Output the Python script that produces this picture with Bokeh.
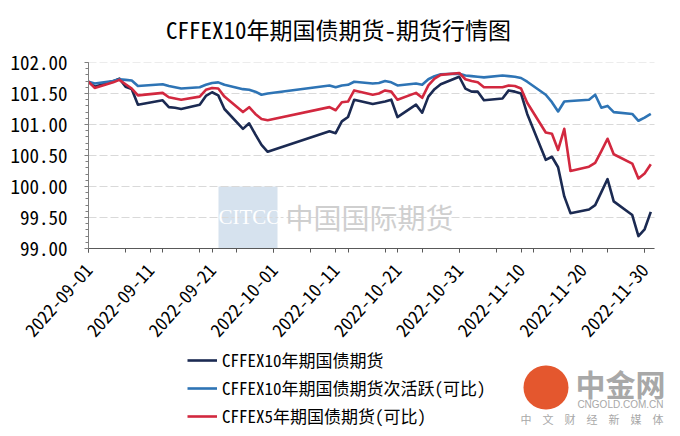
import pandas as pd
from bokeh.plotting import figure
from bokeh.layouts import column
from bokeh.models import (Range1d, FixedTicker, DatetimeTickFormatter, NumeralTickFormatter,
                          Legend, LegendItem, Label, BoxAnnotation)
from bokeh.embed import file_html
from bokeh.resources import INLINE

# ---------------- data ----------------
dates = [
    "2022-09-01", "2022-09-02", "2022-09-05", "2022-09-06", "2022-09-07", "2022-09-08", "2022-09-09",
    "2022-09-13", "2022-09-14", "2022-09-15", "2022-09-16", "2022-09-19", "2022-09-20", "2022-09-21",
    "2022-09-22", "2022-09-23", "2022-09-26", "2022-09-27", "2022-09-28", "2022-09-29", "2022-09-30",
    "2022-10-10", "2022-10-11", "2022-10-12", "2022-10-13", "2022-10-14", "2022-10-17", "2022-10-18",
    "2022-10-19", "2022-10-20", "2022-10-21", "2022-10-24", "2022-10-25", "2022-10-26", "2022-10-27",
    "2022-10-28", "2022-10-31",
    "2022-11-01", "2022-11-02", "2022-11-03", "2022-11-04", "2022-11-07", "2022-11-08", "2022-11-09",
    "2022-11-10", "2022-11-11", "2022-11-14", "2022-11-15", "2022-11-16", "2022-11-17", "2022-11-18",
    "2022-11-21", "2022-11-22", "2022-11-23", "2022-11-24", "2022-11-25", "2022-11-28", "2022-11-29",
    "2022-11-30", "2022-12-01",
]

t10_main = [
    101.69, 101.61, 101.70, 101.74, 101.61, 101.57, 101.32, 101.39, 101.28, 101.27, 101.25, 101.32,
    101.46, 101.52, 101.47, 101.25, 100.93, 101.02, 100.84, 100.67, 100.56,
    100.89, 100.86, 101.05, 101.12, 101.40, 101.33, 101.35, 101.37, 101.40, 101.12, 101.32, 101.19,
    101.45, 101.57, 101.65, 101.77,
    101.58, 101.53, 101.53, 101.39, 101.42, 101.55, 101.53, 101.50, 101.17, 100.43, 100.48, 100.31,
    99.84, 99.57, 99.63, 99.70, 99.91, 100.12, 99.76, 99.54, 99.20, 99.31,
    99.59,
]

t10_next = [
    101.69, 101.66, 101.70, 101.73, 101.72, 101.71, 101.62, 101.65, 101.62, 101.60, 101.58, 101.60,
    101.64, 101.67, 101.68, 101.64, 101.57, 101.56, 101.53, 101.48, 101.50,
    101.63, 101.60, 101.63, 101.64, 101.69, 101.66, 101.67, 101.70, 101.68, 101.63, 101.66, 101.64,
    101.73, 101.78, 101.81, 101.82,
    101.79, 101.78, 101.77, 101.76, 101.79, 101.78, 101.77, 101.75, 101.69, 101.48, 101.36, 101.21,
    101.37, 101.38, 101.40, 101.48, 101.27, 101.30, 101.20, 101.17, 101.06, 101.11,
    101.17,
]

t5 = [
    101.69, 101.59, 101.68, 101.72, 101.65, 101.58, 101.47, 101.51, 101.44, 101.42, 101.40, 101.45,
    101.56, 101.59, 101.58, 101.45, 101.20, 101.28, 101.17, 101.09, 101.07,
    101.28, 101.23, 101.36, 101.37, 101.55, 101.48, 101.50, 101.55, 101.53, 101.40, 101.51, 101.43,
    101.63, 101.74, 101.80, 101.83,
    101.73, 101.70, 101.68, 101.60, 101.60, 101.63, 101.62, 101.58, 101.35, 100.87, 100.85, 100.59,
    100.93, 100.25, 100.32, 100.38, 100.57, 100.77, 100.52, 100.37, 100.13, 100.21,
    100.36,
]

series_names = ["CFFEX10年期国债期货", "CFFEX10年期国债期货次活跃(可比)", "CFFEX5年期国债期货(可比)"]
series_colors = ["#1b2a52", "#2e74b5", "#d2283f"]

x_tick_labels = ["2022-09-01", "2022-09-11", "2022-09-21", "2022-10-01", "2022-10-11",
                 "2022-10-21", "2022-10-31", "2022-11-10", "2022-11-20", "2022-11-30"]
y_ticks = [99.0, 99.5, 100.0, 100.5, 101.0, 101.5, 102.0]

title_text = "CFFEX10年期国债期货-期货行情图"

# ---------------- helpers ----------------
DAY = 86400000.0


def ms(s):
    return pd.Timestamp(s).value / 1e6


x = pd.to_datetime(dates)
x_start = ms(dates[0])
axis_end = ms(dates[-1]) + 0.6 * DAY

FONT = "'Noto Sans Mono CJK SC', 'Noto Sans CJK SC', sans-serif"
CJK = "'Noto Sans CJK SC', sans-serif"

W = 680
FRAME_LEFT = 88
AXIS_RIGHT = 654          # where the x axis line ends
FRAME_TOP = 62            # window y of 102.00
FRAME_BOTTOM = 249        # window y of 99.00
H_TITLE = 46
MAIN_END = 345            # window y where the legend strip begins
H_MAIN = MAIN_END - H_TITLE
H_LEG = 436 - MAIN_END

# the frame runs to the right edge; the axis line stops at AXIS_RIGHT
range_end = x_start + (axis_end - x_start) * (W - FRAME_LEFT) / (AXIS_RIGHT - FRAME_LEFT)


def strip(height):
    f = figure(width=W, height=height, x_range=Range1d(0, W), y_range=Range1d(0, height),
               output_backend="svg", toolbar_location=None, title=None,
               x_axis_location=None, y_axis_location=None, min_border=0)
    f.outline_line_color = None
    f.xgrid.grid_line_color = None
    f.ygrid.grid_line_color = None
    f.background_fill_color = "white"
    f.border_fill_color = "white"
    return f


# ---------------- title strip ----------------
t = strip(H_TITLE)
t.add_layout(Label(x=338 - FRAME_LEFT, y=H_TITLE - 28, x_units="screen", y_units="screen",
                   text=title_text, text_font=FONT, text_font_size="23px", text_color="#000000",
                   text_align="center", text_baseline="middle"))

# ---------------- main plot ----------------
p = figure(width=W, height=H_MAIN, x_axis_type="datetime", title=None,
           x_range=Range1d(x_start, range_end), y_range=Range1d(99.0, 102.0),
           output_backend="svg", toolbar_location=None,
           min_border_left=FRAME_LEFT, min_border_right=0,
           min_border_top=FRAME_TOP - H_TITLE,
           min_border_bottom=MAIN_END - FRAME_BOTTOM)
p.outline_line_color = None
p.background_fill_color = "white"
p.border_fill_color = "white"

major_x = [ms(s) for s in x_tick_labels]
minor_x = [x_start + 6 * k * DAY for k in range(16)]
p.xaxis.bounds = (x_start, axis_end)
p.xaxis.ticker = FixedTicker(ticks=major_x, minor_ticks=minor_x)
p.xaxis.formatter = DatetimeTickFormatter(days="%Y-%m-%d", months="%Y-%m-%d", years="%Y-%m-%d",
                                          hours="%Y-%m-%d", minutes="%Y-%m-%d")
p.xaxis.major_label_orientation = 0.84
p.xaxis.major_label_text_font = FONT
p.xaxis.major_label_text_font_size = "18px"
p.xaxis.major_label_text_color = "#000000"
p.xaxis.axis_line_color = "#595959"
p.xaxis.major_tick_line_color = "#595959"
p.xaxis.minor_tick_line_color = "#595959"
p.xaxis.major_tick_in = 0
p.xaxis.major_tick_out = 4
p.xaxis.minor_tick_in = 0
p.xaxis.minor_tick_out = 4
p.xaxis.major_label_standoff = 14

y_minor = [99.0 + 0.1 * k for k in range(31)]
p.yaxis.ticker = FixedTicker(ticks=y_ticks, minor_ticks=y_minor)
p.yaxis.formatter = NumeralTickFormatter(format="0.00")
p.yaxis.major_label_text_font = FONT
p.yaxis.major_label_text_font_size = "19px"
p.yaxis.major_label_text_color = "#000000"
p.yaxis.axis_line_color = "#7f7f7f"
p.yaxis.major_tick_line_color = "#7f7f7f"
p.yaxis.minor_tick_line_color = "#7f7f7f"
p.yaxis.major_tick_in = 0
p.yaxis.major_tick_out = 4
p.yaxis.minor_tick_in = 0
p.yaxis.minor_tick_out = 3
p.yaxis.major_label_standoff = 17

# dashed horizontal grid lines, ending with the x axis
p.xgrid.grid_line_color = None
p.ygrid.grid_line_color = None
p.segment(x0=[x_start] * len(y_ticks), x1=[axis_end] * len(y_ticks), y0=y_ticks, y1=y_ticks,
          line_color="#d9d9d9", line_width=1, line_dash="8 3")

# watermark (CITCO)
p.add_layout(BoxAnnotation(left=218, right=277, top=186 - H_TITLE, bottom=249 - H_TITLE,
                           left_units="canvas", right_units="canvas",
                           top_units="canvas", bottom_units="canvas",
                           fill_color="#d6e2ee", fill_alpha=1.0, line_color=None,
                           level="underlay"))
p.add_layout(Label(x=130, y=32, x_units="screen", y_units="screen", text="CITCO",
                   text_font="'Liberation Serif', serif", text_font_size="21px",
                   text_color="white", text_baseline="middle", text_align="left"))
p.add_layout(Label(x=197, y=32, x_units="screen", y_units="screen", text="中国国际期货",
                   text_font=CJK, text_font_size="28px",
                   text_color="#cfcfcf", text_baseline="middle", text_align="left"))

# lines
for vals, col in zip([t10_main, t10_next, t5], series_colors):
    p.line(x, vals, line_color=col, line_width=2.6, line_join="round")

# ---------------- legend / logo strip ----------------
q = strip(H_LEG)
# legend proxies: the same series, lying outside this strip's range
proxies = [q.line(x, vals, line_color=c, line_width=2.6)
           for vals, c in zip([t10_main, t10_next, t5], series_colors)]
legend = Legend(items=[LegendItem(label=n, renderers=[r]) for n, r in zip(series_names, proxies)],
                location=(187 - FRAME_LEFT, 8), orientation="vertical",
                glyph_width=30, glyph_height=20, label_height=20, label_standoff=5,
                spacing=3, padding=0, margin=0,
                border_line_color=None, background_fill_alpha=0.0,
                label_text_font=FONT, label_text_font_size="17px", label_text_color="#000000")
q.add_layout(legend, "center")

# logo watermark (中金网): round badge + texts
q.add_layout(BoxAnnotation(left=523, right=568, top=365 - MAIN_END, bottom=409 - MAIN_END,
                           left_units="canvas", right_units="canvas",
                           top_units="canvas", bottom_units="canvas",
                           border_radius=22, fill_color="#e4572e", fill_alpha=1.0,
                           line_color=None))
q.add_layout(Label(x=575 - FRAME_LEFT, y=54, x_units="screen", y_units="screen", text="中金网",
                   text_font=CJK, text_font_size="30px",
                   text_font_style="bold", text_color="#a8a8a8",
                   text_align="left", text_baseline="middle"))
q.add_layout(Label(x=663 - FRAME_LEFT, y=32, x_units="screen", y_units="screen", text="CNGOLD.COM.CN",
                   text_font="'Liberation Sans', sans-serif", text_font_size="10px",
                   text_color="#a8a8a8", text_align="right", text_baseline="middle"))
q.add_layout(Label(x=663 - FRAME_LEFT, y=18, x_units="screen", y_units="screen",
                   text="中\u3000文\u3000财\u3000经\u3000新\u3000媒\u3000体",
                   text_font=CJK, text_font_size="11px",
                   text_color="#a8a8a8", text_align="right", text_baseline="middle"))

layout = column(t, p, q, spacing=0)
open("out.html", "w").write(file_html(layout, INLINE))
